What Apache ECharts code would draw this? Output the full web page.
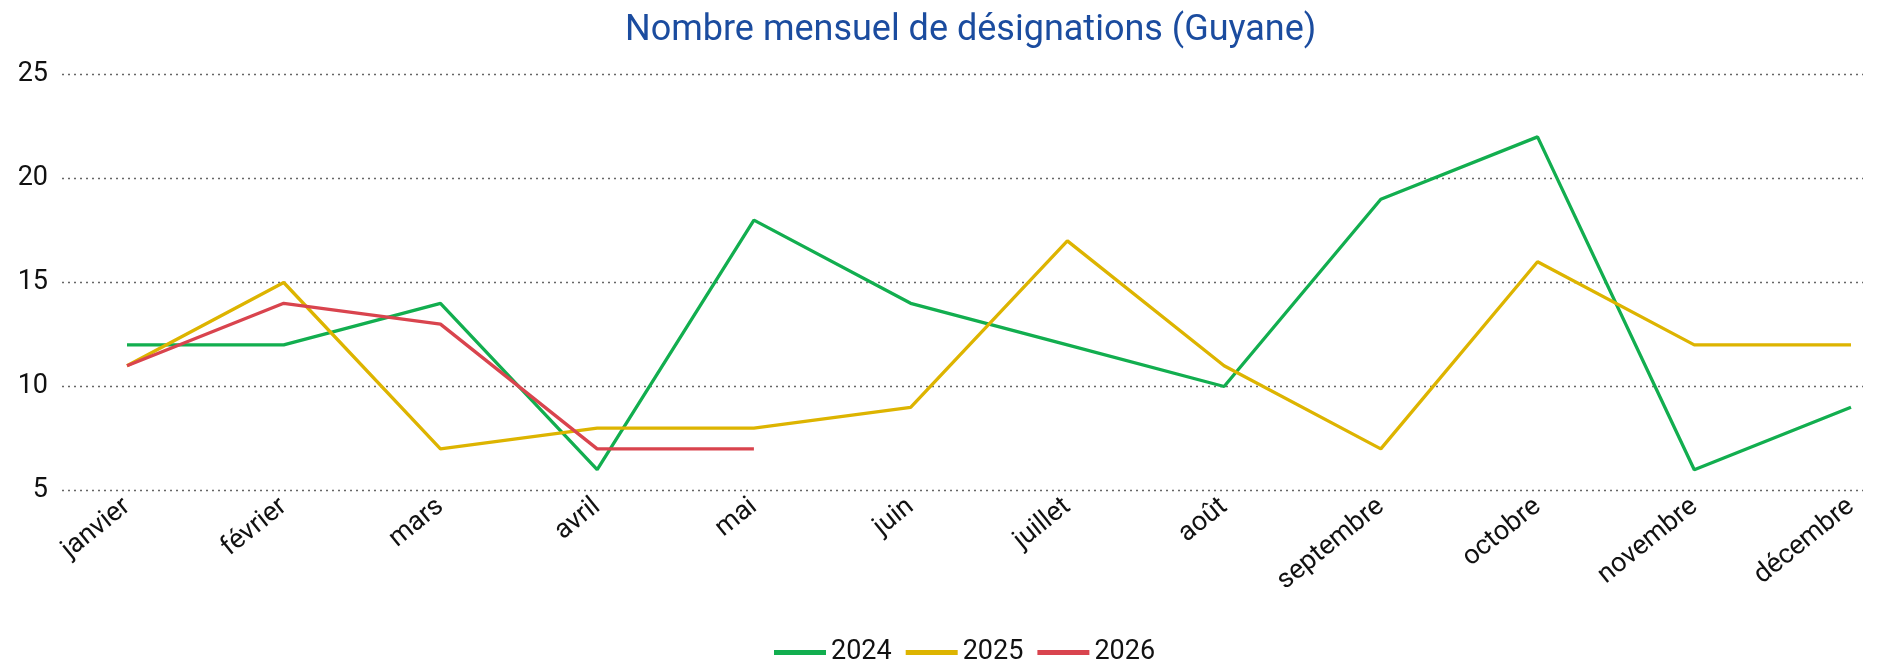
<!DOCTYPE html>
<html>
<head>
<meta charset="utf-8">
<script src="https://cdn.jsdelivr.net/npm/echarts@6/dist/echarts.min.js"></script>
<style>
  html, body { margin: 0; padding: 0; background: #fff; }
  #chart { width: 1885px; height: 663px; }
</style>
</head>
<body>
<div id="chart"></div>
<script>
const months = ['janvier', 'février', 'mars', 'avril', 'mai', 'juin', 'juillet', 'août', 'septembre', 'octobre', 'novembre', 'décembre'];
const years = ['2024', '2025', '2026'];
const values2024 = [12, 12, 14, 6, 18, 14, 12, 10, 19, 22, 6, 9];
const values2025 = [11, 15, 7, 8, 8, 9, 17, 11, 7, 16, 12, 12];
const values2026 = [11, 14, 13, 7, 7];
const yTicks = { min: 5, max: 25, step: 5 };
const colors = ['#12AE4F', '#DDB400', '#D9444E'];

const font = 'Roboto, sans-serif';
const chart = echarts.init(document.getElementById('chart'));

// grid 0 only carries the dotted lines and y labels, grid 1 carries the lines
const option = {
  animation: false,
  color: colors,
  title: {
    text: 'Nombre mensuel de désignations (Guyane)',
    left: 620,
    top: 8,
    textStyle: { color: '#1B4C9F', fontSize: 36, fontWeight: 'normal', fontFamily: font }
  },
  legend: {
    data: years,
    top: 634,
    left: 769,
    icon: 'rect',
    itemWidth: 52,
    itemHeight: 5,
    itemGap: 14,
    textStyle: { color: '#111', fontSize: 27, fontFamily: font }
  },
  grid: [
    { left: 62, right: 22, top: 74.5, bottom: 172.5 },
    { left: 127, right: 34, top: 74.5, bottom: 172.5 }
  ],
  xAxis: [
    { type: 'category', gridIndex: 0, data: months, show: false },
    {
      type: 'category', gridIndex: 1, data: months, boundaryGap: false,
      axisLine: { show: false }, axisTick: { show: false },
      axisLabel: {
        interval: 0, rotate: 39, color: '#111', fontSize: 27, fontFamily: font, margin: 13
      }
    }
  ],
  yAxis: [
    {
      type: 'value', gridIndex: 0, min: yTicks.min, max: yTicks.max, interval: yTicks.step,
      axisLine: { show: false }, axisTick: { show: false },
      axisLabel: { color: '#111', fontSize: 27, fontFamily: font, margin: 14 },
      splitLine: { lineStyle: { color: '#666', type: [2, 4], width: 1.3 } }
    },
    {
      type: 'value', gridIndex: 1, min: yTicks.min, max: yTicks.max, interval: yTicks.step,
      show: false, splitLine: { show: false }
    }
  ],
  series: [values2024, values2025, values2026].map((vals, i) => ({
    name: years[i],
    type: 'line',
    xAxisIndex: 1,
    yAxisIndex: 1,
    data: vals,
    symbol: 'none',
    lineStyle: { width: 3.3, color: colors[i] },
    itemStyle: { color: colors[i] }
  }))
};
chart.setOption(option);
</script>
</body>
</html>
